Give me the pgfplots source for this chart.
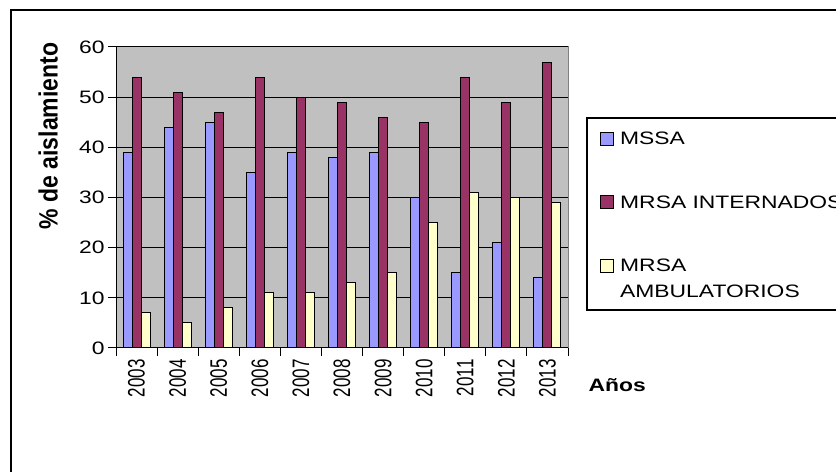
\documentclass[border=0pt]{standalone}
\usepackage{pgfplots}
\pgfplotsset{compat=1.18}
\usepackage{graphicx}
\usepackage{fontspec}
\setmainfont{Liberation Sans}[FakeStretch=1.27]
\newfontfamily\rotfont{Liberation Sans}
\definecolor{mssa}{HTML}{9999FF}
\definecolor{mint}{HTML}{993366}
\definecolor{mamb}{HTML}{FFFFCC}
\definecolor{plotbg}{HTML}{C0C0C0}
\definecolor{plotedge}{HTML}{808080}
\newcommand{\rl}[1]{\scalebox{1}[1.4]{#1}}
\begin{document}
\begin{tikzpicture}
\useasboundingbox (0,0) rectangle (836bp,472bp);
\fill[white] (0,0) rectangle (836bp,472bp);
\draw[line width=2bp] (11bp,-20bp) -- (11bp,462bp) -- (860bp,462bp);
\draw[line width=1.3bp] (900bp,354bp) -- (587bp,354bp) -- (587bp,162bp) -- (900bp,162bp);
\begin{axis}[
  at={(116bp,124bp)}, anchor=south west,
  scale only axis, width=452bp, height=301bp,
  ybar, bar width=9bp,
  xmin=-0.5, xmax=10.5, ymin=0, ymax=60,
  xtick={0,...,10},
  xticklabels={\rl{2003},\rl{2004},\rl{2005},\rl{2006},\rl{2007},\rl{2008},\rl{2009},\rl{2010},\rl{2011},\rl{2012},\rl{2013}},
  minor xtick={-0.5,0.5,1.5,2.5,3.5,4.5,5.5,6.5,7.5,8.5,9.5,10.5},
  every major x tick/.style={draw=none},
  every minor x tick/.style={draw=black, line width=1bp},
  minor tick length=8bp,
  ytick={0,10,...,60},
  every major y tick/.style={draw=black, line width=1bp},
  major tick length=8bp,
  tick align=outside,
  /pgf/number format/assume math mode=true,
  axis x line*=bottom, axis y line*=left,
  axis line style={-, black, line width=1bp},
  axis background/.style={fill=plotbg, draw=plotedge, line width=1bp},
  ymajorgrids, major grid style={black, line width=1bp},
  xticklabel style={font=\rotfont\fontsize{17bp}{20bp}\selectfont, rotate=90, anchor=east, yshift=0bp},
  yticklabel style={font=\fontsize{18bp}{21bp}\selectfont, anchor=east},
  ylabel={\scalebox{1}[1.15]{\rotfont\bfseries\% de aislamiento}},
  ylabel style={font=\fontsize{23bp}{26bp}\selectfont, at={(axis description cs:-0.150,0.704)}, anchor=center, rotate=0},
  xlabel={\bfseries Años},
  xlabel style={font=\fontsize{18bp}{21bp}\selectfont, at={(axis description cs:1.038,-0.143)}, anchor=base west},
  sqleg/.style={legend image code/.code={\draw[##1, line width=1bp] (0bp,-0.5bp) rectangle (13bp,12.5bp);}},
  legend style={at={(axis description cs:1.0708,0.719)}, anchor=north west,
    draw=none, fill=none, inner sep=0pt,
    font=\fontsize{18bp}{26bp}\selectfont,
    row sep=49bp, column sep=6bp,
    nodes={inner sep=0pt},
    cells={anchor=base west}},
]
\addplot[fill=mssa, draw=black, line width=1bp, bar shift=-9bp, sqleg] coordinates {(0,39) (1,44) (2,45) (3,35) (4,39) (5,38) (6,39) (7,30) (8,15) (9,21) (10,14)};
\addplot[fill=mint, draw=black, line width=1bp, bar shift=0bp, sqleg] coordinates {(0,54) (1,51) (2,47) (3,54) (4,50) (5,49) (6,46) (7,45) (8,54) (9,49) (10,57)};
\addplot[fill=mamb, draw=black, line width=1bp, bar shift=9bp, sqleg] coordinates {(0,7) (1,5) (2,8) (3,11) (4,11) (5,13) (6,15) (7,25) (8,31) (9,30) (10,29)};
\legend{MSSA, MRSA INTERNADOS, {\vtop{\baselineskip=26bp\hbox{MRSA}\hbox{AMBULATORIOS}}}}
\end{axis}
\end{tikzpicture}
\end{document}
